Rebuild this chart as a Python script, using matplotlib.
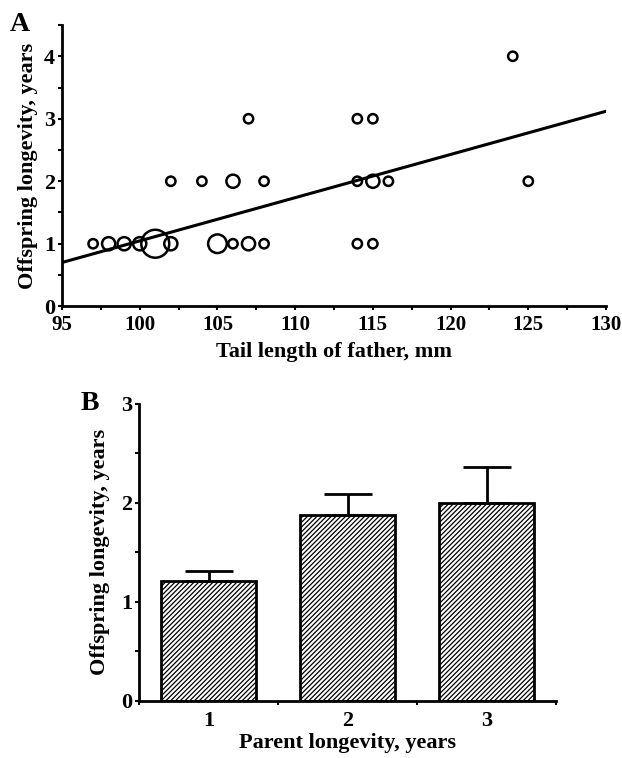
import numpy as np
import matplotlib.pyplot as plt
from matplotlib.ticker import MultipleLocator

# Panel A data: tail length of father (mm), offspring longevity (years), number of birds
tail_len = [97, 98, 99, 100, 101, 102, 105, 106, 107, 108,
            102, 104, 106, 108, 114, 115, 116, 125,
            107, 114, 115, 124, 114, 115]
off_long = [1, 1, 1, 1, 1, 1, 1, 1, 1, 1,
            2, 2, 2, 2, 2, 2, 2, 2,
            3, 3, 3, 4, 1, 1]
n_birds = [1, 2, 2, 2, 9, 2, 4, 1, 2, 1,
           1, 1, 2, 1, 1, 2, 1, 1,
           1, 1, 1, 1, 1, 1]
fit_x = [95, 130]
fit_y = [0.70, 3.12]

# Panel B data
parent_long = [1, 2, 3]
mean_off = [1.21, 1.88, 2.00]
se_off = [0.10, 0.21, 0.36]

plt.rcParams['font.family'] = 'Liberation Serif'
plt.rcParams['font.weight'] = 'bold'
plt.rcParams['hatch.linewidth'] = 0.9

fig = plt.figure(figsize=(6.22, 7.58), dpi=100)

# ---- Panel A ----
ax1 = fig.add_axes([0.0997, 0.596, 0.8746, 0.371])
ax1.scatter(tail_len, off_long, s=[45 * n for n in n_birds], facecolors='none',
            edgecolors='black', linewidths=1.8, zorder=3)
ax1.plot(fit_x, fit_y, color='black', linewidth=2.2)
ax1.set_xlim(95, 130)
ax1.set_ylim(0, 4.5)
ax1.set_xticks([95, 100, 105, 110, 115, 120, 125, 130])
ax1.set_yticks([0, 1, 2, 3, 4])
ax1.xaxis.set_minor_locator(MultipleLocator(2.5))
ax1.yaxis.set_minor_locator(MultipleLocator(0.5))
ax1.tick_params(axis='x', which='both', direction='out', length=3, width=1.5, labelsize=15, pad=3)
ax1.tick_params(axis='y', which='both', direction='out', length=3, width=1.5, labelsize=16, pad=2)
ax1.set_xlabel('Tail length of father, mm', fontsize=16, fontweight='bold', labelpad=5)
ax1.set_ylabel('Offspring longevity, years', fontsize=16, fontweight='bold', labelpad=4)
for sp in ['top', 'right']:
    ax1.spines[sp].set_visible(False)
for sp in ['left', 'bottom']:
    ax1.spines[sp].set_linewidth(2)
fig.text(0.015, 0.968, 'A', fontsize=20, fontweight='bold', va='center')

# ---- Panel B ----
ax2 = fig.add_axes([0.2235, 0.0752, 0.6705, 0.392])
ax2.bar(parent_long, mean_off, width=0.686, color='white', edgecolor='black',
        linewidth=2, hatch='///////')
ax2.errorbar(parent_long, mean_off, yerr=[[0, 0, 0], se_off],
             fmt='none', ecolor='black', elinewidth=2, capsize=17.5, capthick=2)
ax2.set_xlim(0.5, 3.5)
ax2.set_ylim(0, 3)
ax2.set_xticks(parent_long)
ax2.set_yticks([0, 1, 2, 3])
ax2.xaxis.set_minor_locator(MultipleLocator(1.0, offset=0.5))
ax2.yaxis.set_minor_locator(MultipleLocator(0.5))
ax2.tick_params(axis='x', which='major', length=0, labelsize=16, pad=7)
ax2.tick_params(axis='x', which='minor', direction='out', length=3, width=1.5)
ax2.tick_params(axis='y', which='both', direction='out', length=3, width=1.5, labelsize=16, pad=2)
ax2.set_xlabel('Parent longevity, years', fontsize=16, fontweight='bold', labelpad=2)
ax2.set_ylabel('Offspring longevity, years', fontsize=16, fontweight='bold', labelpad=8)
for sp in ['top', 'right']:
    ax2.spines[sp].set_visible(False)
for sp in ['left', 'bottom']:
    ax2.spines[sp].set_linewidth(2)
fig.text(0.13, 0.468, 'B', fontsize=20, fontweight='bold', va='center')

fig.savefig('out.png', dpi=100)
